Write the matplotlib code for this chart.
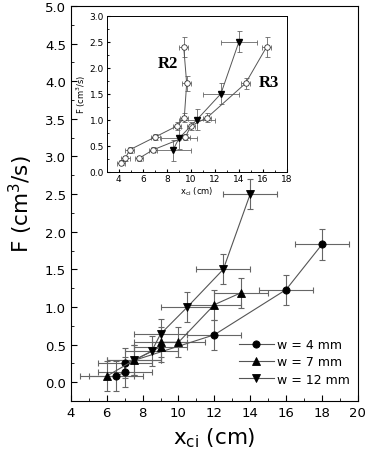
import matplotlib.pyplot as plt
from matplotlib.ticker import MultipleLocator

# main panel: w = 4, 7, 12 mm
x_w4 = [6.5, 7.0, 7.0, 12.0, 16.0, 18.0]
F_w4 = [0.08, 0.13, 0.25, 0.63, 1.23, 1.83]
x_w7 = [6.0, 7.5, 9.0, 9.0, 10.0, 12.0, 13.5]
F_w7 = [0.08, 0.29, 0.47, 0.53, 0.53, 1.03, 1.19]
x_w12 = [7.5, 8.5, 9.0, 10.5, 12.5, 14.0]
F_w12 = [0.29, 0.41, 0.64, 1.0, 1.5, 2.5]
xerr_main = 1.5
yerr_main = 0.2

# inset: R2, R3 (open circles) and w = 12 mm
x_r2 = [4.2, 4.55, 4.9, 7.05, 8.85, 9.45, 9.65, 9.4]
F_r2 = [0.17, 0.26, 0.42, 0.67, 0.88, 1.04, 1.70, 2.40]
yerr_r2 = [0.05, 0.05, 0.06, 0.06, 0.07, 0.08, 0.15, 0.2]
x_r3 = [5.7, 6.85, 9.55, 10.0, 11.35, 14.55, 16.3]
F_r3 = [0.26, 0.42, 0.67, 0.88, 1.04, 1.70, 2.40]
yerr_r3 = [0.05, 0.05, 0.06, 0.07, 0.08, 0.1, 0.2]
x_in12 = [8.5, 9.0, 10.5, 12.5, 14.0]
F_in12 = [0.41, 0.64, 1.0, 1.5, 2.5]

lc = '#555555'
ec = '#666666'

fig = plt.figure(figsize=(3.67, 4.60), dpi=100)
ax = fig.add_axes([0.193, 0.126, 0.782, 0.859])

def series(a, x, y, mk, lab, ms, xe, ye, mfc='black', lw=0.8):
    a.errorbar(x, y, xerr=xe, yerr=ye, fmt='none', ecolor=ec, elinewidth=lw,
               capsize=2.2, capthick=lw, zorder=2)
    a.plot(x, y, '-', color=lc, lw=lw, marker=mk, ms=ms, mfc=mfc,
           mec='black', mew=0.6, label=lab, zorder=3)

series(ax, x_w4, F_w4, 'o', 'w = 4 mm', 5.2, xerr_main, yerr_main)
series(ax, x_w7, F_w7, '^', 'w = 7 mm', 5.8, xerr_main, yerr_main)
series(ax, x_w12, F_w12, 'v', 'w = 12 mm', 5.8, xerr_main, yerr_main)

ax.set_xlim(4, 20)
ax.set_ylim(-0.25, 5.0)
ax.xaxis.set_major_locator(MultipleLocator(2))
ax.xaxis.set_minor_locator(MultipleLocator(1))
ax.yaxis.set_major_locator(MultipleLocator(0.5))
ax.yaxis.set_minor_locator(MultipleLocator(0.25))
ax.tick_params(which='both', direction='in', top=False, right=False,
               labelsize=9.5)
ax.tick_params(which='major', length=4)
ax.tick_params(which='minor', length=2)
ax.yaxis.set_major_formatter(plt.FormatStrFormatter('%.1f'))
ax.set_xlabel('x$_{\\mathregular{ci}}$ (cm)', fontsize=15.5, labelpad=5)
ax.set_ylabel('F (cm$^{\\mathregular{3}}$/s)', fontsize=15.5, labelpad=7)
ax.legend(loc='lower right', frameon=False, fontsize=9, handlelength=2.8,
          handletextpad=0.3, labelspacing=0.35, borderaxespad=0.2,
          bbox_to_anchor=(1.0, 0.02))

ins = fig.add_axes([0.291, 0.6246, 0.491, 0.339])
ins.errorbar(x_r2, F_r2, xerr=0.35, yerr=yerr_r2, fmt='none', ecolor=ec,
             elinewidth=0.6, capsize=1.8, capthick=0.6, zorder=2)
ins.plot(x_r2, F_r2, '-', color=lc, lw=0.7, marker='o', ms=4, mfc='white',
         mec='#333333', mew=0.6, zorder=3)
ins.errorbar(x_r3, F_r3, xerr=0.35, yerr=yerr_r3, fmt='none', ecolor=ec,
             elinewidth=0.6, capsize=1.8, capthick=0.6, zorder=2)
ins.plot(x_r3, F_r3, '-', color=lc, lw=0.7, marker='o', ms=4, mfc='white',
         mec='#333333', mew=0.6, zorder=3)
ins.errorbar(x_in12, F_in12, xerr=1.5, yerr=0.2, fmt='none', ecolor=ec,
             elinewidth=0.6, capsize=1.8, capthick=0.6, zorder=2)
ins.plot(x_in12, F_in12, '-', color=lc, lw=0.7, marker='v', ms=4,
         mfc='black', mec='black', zorder=3)

ins.set_xlim(3, 18)
ins.set_ylim(0, 3)
ins.xaxis.set_major_locator(MultipleLocator(2))
ins.xaxis.set_minor_locator(MultipleLocator(1))
ins.yaxis.set_major_locator(MultipleLocator(0.5))
ins.yaxis.set_minor_locator(MultipleLocator(0.25))
ins.tick_params(which='both', direction='in', top=False, right=False,
                labelsize=6.5, pad=2)
ins.tick_params(which='major', length=2.5)
ins.tick_params(which='minor', length=1.5)
ins.yaxis.set_major_formatter(plt.FormatStrFormatter('%.1f'))
ins.set_xlabel('x$_{\\mathregular{ci}}$ (cm)', fontsize=6, labelpad=1)
ins.set_ylabel('F (cm$^{\\mathregular{3}}$/s)', fontsize=6, labelpad=1)
for s in ins.spines.values():
    s.set_linewidth(0.7)
ins.text(8.1, 2.1, 'R2', family='Liberation Serif', weight='bold',
         fontsize=12, ha='center', va='center')
ins.text(16.5, 1.72, 'R3', family='Liberation Serif', weight='bold',
         fontsize=12, ha='center', va='center')

fig.savefig('out.png', dpi=100)
